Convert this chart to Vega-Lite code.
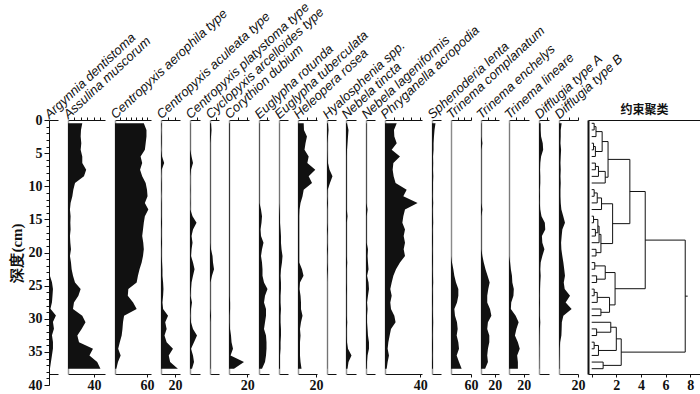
{
"$schema":"https://vega.github.io/schema/vega-lite/v6.json",
"background":"white",
"padding":{"left":9,"top":0,"right":1,"bottom":1},
"bounds":"flush",
"spacing":10,
"datasets":{
"taxa":[
{"depth":0.5,"Arg":0,"Ass":22,"Caer":54,"Cacu":1,"Cpla":0.5,"Cycl":1.7,"Cory":0.8,"Erot":0.6,"Etub":0.3,"Hele":6.3,"Hyal":1.1,"Ntin":1,"Nlag":0.6,"Phry":13.3,"Sphe":3.9,"Tcom":0.3,"Tenc":0.7,"Tlin":0.3,"DifA":2,"DifB":2.8},
{"depth":1.5,"Arg":0,"Ass":20,"Caer":59,"Cacu":0.5,"Cpla":0.5,"Cycl":2.5,"Cory":0.8,"Erot":0.6,"Etub":0.3,"Hele":6.6,"Hyal":1.7,"Ntin":2.5,"Nlag":0.6,"Phry":10.2,"Sphe":2.8,"Tcom":0.3,"Tenc":0.7,"Tlin":0.3,"DifA":2,"DifB":1.8},
{"depth":2.5,"Arg":0,"Ass":19.5,"Caer":59,"Cacu":1,"Cpla":0.5,"Cycl":1.7,"Cory":0.8,"Erot":0.6,"Etub":0.3,"Hele":9.9,"Hyal":1.1,"Ntin":2,"Nlag":0.6,"Phry":10.6,"Sphe":2.2,"Tcom":0.3,"Tenc":0.7,"Tlin":0.3,"DifA":2.5,"DifB":1.8},
{"depth":3.5,"Arg":0,"Ass":20.5,"Caer":57.5,"Cacu":1,"Cpla":0.5,"Cycl":0.8,"Cory":0.8,"Erot":0.6,"Etub":0.3,"Hele":8.3,"Hyal":0.6,"Ntin":1.5,"Nlag":0.6,"Phry":13.3,"Sphe":1.7,"Tcom":0.3,"Tenc":2,"Tlin":0.3,"DifA":4.5,"DifB":1.5},
{"depth":4.5,"Arg":0,"Ass":19.5,"Caer":56,"Cacu":0.5,"Cpla":0.5,"Cycl":0.8,"Cory":0.8,"Erot":0.6,"Etub":0.3,"Hele":7.2,"Hyal":0.6,"Ntin":1,"Nlag":0.6,"Phry":7.6,"Sphe":1.7,"Tcom":0.3,"Tenc":0.7,"Tlin":0.3,"DifA":5,"DifB":2.2},
{"depth":5.5,"Arg":0,"Ass":22,"Caer":48,"Cacu":1.5,"Cpla":2.3,"Cycl":0.8,"Cory":0.8,"Erot":0.6,"Etub":0.3,"Hele":11.8,"Hyal":0.8,"Ntin":0.8,"Nlag":0.6,"Phry":17,"Sphe":1.1,"Tcom":0.3,"Tenc":0.7,"Tlin":0.3,"DifA":2.5,"DifB":1.8},
{"depth":6.5,"Arg":0,"Ass":22,"Caer":51,"Cacu":4.5,"Cpla":4.5,"Cycl":0.8,"Cory":0.8,"Erot":0.6,"Etub":0.3,"Hele":10.3,"Hyal":1.1,"Ntin":0.8,"Nlag":0.6,"Phry":9.5,"Sphe":1.3,"Tcom":0.3,"Tenc":0.7,"Tlin":0.3,"DifA":1.5,"DifB":1.5},
{"depth":7.5,"Arg":0,"Ass":28,"Caer":47,"Cacu":1,"Cpla":1.5,"Cycl":0.8,"Cory":0.8,"Erot":0.6,"Etub":0.3,"Hele":19.1,"Hyal":2.8,"Ntin":0.8,"Nlag":0.6,"Phry":8.7,"Sphe":1.1,"Tcom":0.3,"Tenc":0.7,"Tlin":0.3,"DifA":1.2,"DifB":1.8},
{"depth":8.5,"Arg":0,"Ass":24.6,"Caer":51,"Cacu":0.5,"Cpla":0.5,"Cycl":0.8,"Cory":0.8,"Erot":0.6,"Etub":0.3,"Hele":11.8,"Hyal":6.1,"Ntin":0.8,"Nlag":0.6,"Phry":9.8,"Sphe":1.4,"Tcom":0.3,"Tenc":0.7,"Tlin":0.3,"DifA":1.5,"DifB":1.5},
{"depth":9.5,"Arg":0,"Ass":10.8,"Caer":57.5,"Cacu":1,"Cpla":0.5,"Cycl":0.8,"Cory":0.8,"Erot":0.6,"Etub":0.3,"Hele":15.5,"Hyal":3.3,"Ntin":0.8,"Nlag":0.6,"Phry":12,"Sphe":1.1,"Tcom":0.3,"Tenc":0.7,"Tlin":0.3,"DifA":1.5,"DifB":1.8},
{"depth":10.5,"Arg":0,"Ass":8.2,"Caer":60,"Cacu":1,"Cpla":0.8,"Cycl":0.8,"Cory":0.8,"Erot":0.6,"Etub":0.3,"Hele":6.3,"Hyal":0.8,"Ntin":0.8,"Nlag":0.6,"Phry":24.6,"Sphe":1.1,"Tcom":0.3,"Tenc":0.7,"Tlin":0.3,"DifA":1,"DifB":1.5},
{"depth":11.5,"Arg":0,"Ass":6.7,"Caer":61,"Cacu":0.5,"Cpla":0.5,"Cycl":0.8,"Cory":0.8,"Erot":0.6,"Etub":0.3,"Hele":5,"Hyal":0.6,"Ntin":0.8,"Nlag":0.6,"Phry":20.8,"Sphe":0.9,"Tcom":0.3,"Tenc":0.7,"Tlin":0.3,"DifA":1.2,"DifB":1.5},
{"depth":12.5,"Arg":0,"Ass":4,"Caer":56,"Cacu":1,"Cpla":0.8,"Cycl":0.8,"Cory":0.8,"Erot":0.6,"Etub":0.3,"Hele":2.8,"Hyal":1.1,"Ntin":0.8,"Nlag":0.6,"Phry":37,"Sphe":1.3,"Tcom":0.3,"Tenc":0.7,"Tlin":0.3,"DifA":1,"DifB":1.8},
{"depth":13.5,"Arg":0,"Ass":3,"Caer":62.5,"Cacu":1,"Cpla":0.5,"Cycl":0.8,"Cory":0.8,"Erot":2.4,"Etub":0.8,"Hele":1.7,"Hyal":0.6,"Ntin":0.8,"Nlag":1.7,"Phry":22.7,"Sphe":0.9,"Tcom":0.3,"Tenc":2,"Tlin":0.3,"DifA":1.5,"DifB":2.5},
{"depth":14.5,"Arg":0,"Ass":4,"Caer":56,"Cacu":1,"Cpla":3.8,"Cycl":0.8,"Cory":0.8,"Erot":3.6,"Etub":1.1,"Hele":1.4,"Hyal":0.6,"Ntin":1.5,"Nlag":0.8,"Phry":20.8,"Sphe":1.1,"Tcom":0.3,"Tenc":0.7,"Tlin":0.3,"DifA":3,"DifB":4.5},
{"depth":15.5,"Arg":0,"Ass":3.6,"Caer":54,"Cacu":1.5,"Cpla":9.8,"Cycl":0.8,"Cory":0.8,"Erot":3,"Etub":1.1,"Hele":1.4,"Hyal":0.6,"Ntin":0.8,"Nlag":0.8,"Phry":19.7,"Sphe":1.3,"Tcom":0.3,"Tenc":0.7,"Tlin":0.3,"DifA":7,"DifB":6.3},
{"depth":16.5,"Arg":0,"Ass":4,"Caer":52.5,"Cacu":1,"Cpla":4.5,"Cycl":0.8,"Cory":0.8,"Erot":1.8,"Etub":1.7,"Hele":1.4,"Hyal":1.1,"Ntin":0.8,"Nlag":0.8,"Phry":22.7,"Sphe":0.9,"Tcom":0.3,"Tenc":0.7,"Tlin":0.3,"DifA":7.5,"DifB":3.5},
{"depth":17.5,"Arg":0,"Ass":3,"Caer":51,"Cacu":1,"Cpla":2.3,"Cycl":0.8,"Cory":0.8,"Erot":2.4,"Etub":2.2,"Hele":1.4,"Hyal":0.6,"Ntin":0.8,"Nlag":0.8,"Phry":21.2,"Sphe":1.1,"Tcom":0.3,"Tenc":0.7,"Tlin":0.3,"DifA":3.5,"DifB":2.8},
{"depth":18.5,"Arg":0,"Ass":3.6,"Caer":53,"Cacu":1.5,"Cpla":3.8,"Cycl":0.8,"Cory":0.8,"Erot":5.4,"Etub":2.2,"Hele":1.4,"Hyal":0.6,"Ntin":0.8,"Nlag":0.8,"Phry":22.7,"Sphe":1.1,"Tcom":0.3,"Tenc":0.7,"Tlin":0.3,"DifA":4,"DifB":2.2},
{"depth":19.5,"Arg":0,"Ass":4.6,"Caer":54,"Cacu":1,"Cpla":2.3,"Cycl":1.7,"Cory":0.8,"Erot":3.6,"Etub":2.8,"Hele":1.4,"Hyal":1.1,"Ntin":0.8,"Nlag":2.2,"Phry":21.2,"Sphe":0.9,"Tcom":0.3,"Tenc":0.7,"Tlin":0.3,"DifA":6.5,"DifB":2.5},
{"depth":20.5,"Arg":0,"Ass":3,"Caer":52.5,"Cacu":1,"Cpla":1.5,"Cycl":4.2,"Cory":0.8,"Erot":2.4,"Etub":3.9,"Hele":1.4,"Hyal":0.6,"Ntin":0.8,"Nlag":1.7,"Phry":22.7,"Sphe":1.1,"Tcom":0.3,"Tenc":2,"Tlin":0.3,"DifA":4,"DifB":3.5},
{"depth":21.5,"Arg":0,"Ass":4.6,"Caer":50,"Cacu":1.5,"Cpla":4.5,"Cycl":5,"Cory":0.8,"Erot":3.6,"Etub":3.3,"Hele":1.4,"Hyal":0.6,"Ntin":1.2,"Nlag":2.2,"Phry":17,"Sphe":1.1,"Tcom":3,"Tenc":4,"Tlin":1.5,"DifA":2,"DifB":4.6},
{"depth":22.5,"Arg":0.5,"Ass":5.6,"Caer":46,"Cacu":2,"Cpla":6.8,"Cycl":6.7,"Cory":0.8,"Erot":4.2,"Etub":2.2,"Hele":4.4,"Hyal":1.1,"Ntin":0.8,"Nlag":2.8,"Phry":12.5,"Sphe":0.9,"Tcom":7,"Tenc":6.5,"Tlin":2.5,"DifA":1.5,"DifB":5.5},
{"depth":23.5,"Arg":1,"Ass":7.7,"Caer":43,"Cacu":2,"Cpla":4.5,"Cycl":3.3,"Cory":0.8,"Erot":4.2,"Etub":1.7,"Hele":6.1,"Hyal":0.6,"Ntin":0.8,"Nlag":1.1,"Phry":9.5,"Sphe":1.1,"Tcom":10,"Tenc":9.5,"Tlin":4,"DifA":2,"DifB":6.3},
{"depth":24.5,"Arg":3.3,"Ass":10.8,"Caer":40.6,"Cacu":3,"Cpla":2.3,"Cycl":0.8,"Cory":0.8,"Erot":6,"Etub":2.2,"Hele":2.2,"Hyal":0.3,"Ntin":0.8,"Nlag":2.8,"Phry":7.6,"Sphe":1.3,"Tcom":15,"Tenc":12.5,"Tlin":4.5,"DifA":1.5,"DifB":5},
{"depth":25.5,"Arg":4.4,"Ass":19.5,"Caer":25,"Cacu":3.5,"Cpla":1.5,"Cycl":0.8,"Cory":0.8,"Erot":10.2,"Etub":2.2,"Hele":1.7,"Hyal":0.3,"Ntin":1,"Nlag":3.3,"Phry":6,"Sphe":0.9,"Tcom":22,"Tenc":10.5,"Tlin":6.5,"DifA":1.2,"DifB":6},
{"depth":26.5,"Arg":3.9,"Ass":16,"Caer":24,"Cacu":3,"Cpla":0.8,"Cycl":0.8,"Cory":0.8,"Erot":7.2,"Etub":1.7,"Hele":2.8,"Hyal":0.3,"Ntin":0.8,"Nlag":2.2,"Phry":7.6,"Sphe":1.1,"Tcom":22,"Tenc":9,"Tlin":6,"DifA":1,"DifB":11.6},
{"depth":27.5,"Arg":3.3,"Ass":9.2,"Caer":34,"Cacu":2,"Cpla":3,"Cycl":0.8,"Cory":1.2,"Erot":6,"Etub":1.7,"Hele":3.3,"Hyal":0.3,"Ntin":0.8,"Nlag":1.1,"Phry":6,"Sphe":1.1,"Tcom":18,"Tenc":9,"Tlin":3,"DifA":1.2,"DifB":7},
{"depth":28.5,"Arg":1.6,"Ass":7.7,"Caer":40.6,"Cacu":3,"Cpla":1.5,"Cycl":0.8,"Cory":1.2,"Erot":8.4,"Etub":2.2,"Hele":3.3,"Hyal":0.3,"Ntin":0.8,"Nlag":1.7,"Phry":6.8,"Sphe":0.9,"Tcom":10,"Tenc":13,"Tlin":2.5,"DifA":1,"DifB":13.3},
{"depth":29.5,"Arg":7.7,"Ass":22,"Caer":17,"Cacu":10,"Cpla":0.8,"Cycl":1.7,"Cory":0.8,"Erot":8.4,"Etub":1.7,"Hele":5,"Hyal":0.3,"Ntin":0.8,"Nlag":1.1,"Phry":10.6,"Sphe":1.1,"Tcom":12,"Tenc":15,"Tlin":9,"DifA":1,"DifB":4.6},
{"depth":30.5,"Arg":4.4,"Ass":27,"Caer":15,"Cacu":6,"Cpla":1.5,"Cycl":0.8,"Cory":0.8,"Erot":7.2,"Etub":1.7,"Hele":3.3,"Hyal":0.3,"Ntin":1.2,"Nlag":1.1,"Phry":12,"Sphe":1.3,"Tcom":18,"Tenc":10,"Tlin":13,"DifA":1.5,"DifB":3},
{"depth":31.5,"Arg":5.5,"Ass":21,"Caer":14,"Cacu":8,"Cpla":4.5,"Cycl":0.8,"Cory":1.1,"Erot":6,"Etub":2.2,"Hele":2.2,"Hyal":0.3,"Ntin":0.8,"Nlag":1.7,"Phry":6.8,"Sphe":1.1,"Tcom":20,"Tenc":9,"Tlin":10,"DifA":1,"DifB":2.8},
{"depth":32.5,"Arg":3.3,"Ass":14.4,"Caer":12.5,"Cacu":5,"Cpla":10.5,"Cycl":0.8,"Cory":2.2,"Erot":8.4,"Etub":2.2,"Hele":2.8,"Hyal":0.3,"Ntin":0.8,"Nlag":2.2,"Phry":5.3,"Sphe":0.9,"Tcom":17,"Tenc":12,"Tlin":8,"DifA":0.8,"DifB":2.5},
{"depth":33.5,"Arg":4.4,"Ass":17,"Caer":9,"Cacu":8,"Cpla":6,"Cycl":0.8,"Cory":2.8,"Erot":9,"Etub":1.7,"Hele":2.2,"Hyal":0.3,"Ntin":1,"Nlag":3.3,"Phry":3.8,"Sphe":1.1,"Tcom":22,"Tenc":12,"Tlin":12,"DifA":0.7,"DifB":1.2},
{"depth":34.5,"Arg":4.4,"Ass":38.5,"Caer":6,"Cacu":17,"Cpla":1.5,"Cycl":0.8,"Cory":4.4,"Erot":9,"Etub":1.7,"Hele":2.2,"Hyal":0.3,"Ntin":2,"Nlag":3.3,"Phry":3,"Sphe":1.1,"Tcom":24,"Tenc":10,"Tlin":14.5,"DifA":0.5,"DifB":0.8},
{"depth":35.5,"Arg":3.3,"Ass":33,"Caer":10.6,"Cacu":11,"Cpla":4.5,"Cycl":0.8,"Cory":1.7,"Erot":8.4,"Etub":1.1,"Hele":2.2,"Hyal":0.3,"Ntin":5.5,"Nlag":1.7,"Phry":4.5,"Sphe":0.9,"Tcom":17,"Tenc":9,"Tlin":11,"DifA":0.5,"DifB":0.7},
{"depth":36.5,"Arg":2.2,"Ass":45,"Caer":5.6,"Cacu":13,"Cpla":6,"Cycl":0.8,"Cory":16.5,"Erot":7.2,"Etub":1.1,"Hele":2.8,"Hyal":0.3,"Ntin":2.5,"Nlag":1.1,"Phry":3,"Sphe":1.1,"Tcom":24,"Tenc":10,"Tlin":12,"DifA":0.3,"DifB":0.5},
{"depth":37.5,"Arg":1.1,"Ass":50,"Caer":2.5,"Cacu":24,"Cpla":3,"Cycl":0.8,"Cory":5.5,"Erot":3.6,"Etub":1.1,"Hele":3.9,"Hyal":0.3,"Ntin":1.5,"Nlag":0.8,"Phry":1.9,"Sphe":1.1,"Tcom":32,"Tenc":6,"Tlin":12,"DifA":0.3,"DifB":0.5}
],
"tree":[
{"h1":0,"h2":0.2,"d1":0.5,"d2":0.5},{"h1":0,"h2":0.2,"d1":1.5,"d2":1.5},{"h1":0.2,"h2":0.2,"d1":0.5,"d2":1.5},
{"h1":0.2,"h2":0.35,"d1":1,"d2":1},{"h1":0,"h2":0.35,"d1":2.5,"d2":2.5},{"h1":0.35,"h2":0.35,"d1":1,"d2":2.5},
{"h1":0,"h2":0.15,"d1":3.5,"d2":3.5},{"h1":0,"h2":0.15,"d1":4.5,"d2":4.5},{"h1":0.15,"h2":0.15,"d1":3.5,"d2":4.5},
{"h1":0.15,"h2":0.3,"d1":4,"d2":4},{"h1":0,"h2":0.3,"d1":5.5,"d2":5.5},{"h1":0.3,"h2":0.3,"d1":4,"d2":5.5},
{"h1":0.35,"h2":0.85,"d1":1.75,"d2":1.75},{"h1":0.3,"h2":0.85,"d1":4.75,"d2":4.75},{"h1":0.85,"h2":0.85,"d1":1.75,"d2":4.75},
{"h1":0,"h2":0.3,"d1":6.5,"d2":6.5},{"h1":0,"h2":0.3,"d1":7.5,"d2":7.5},{"h1":0.3,"h2":0.3,"d1":6.5,"d2":7.5},
{"h1":0.3,"h2":0.55,"d1":7,"d2":7},{"h1":0,"h2":0.55,"d1":8.5,"d2":8.5},{"h1":0.55,"h2":0.55,"d1":7,"d2":8.5},
{"h1":0.55,"h2":1.1,"d1":7.75,"d2":7.75},{"h1":0,"h2":1.1,"d1":9.5,"d2":9.5},{"h1":1.1,"h2":1.1,"d1":7.75,"d2":9.5},
{"h1":0.85,"h2":1.33,"d1":3.25,"d2":3.25},{"h1":1.1,"h2":1.33,"d1":8.63,"d2":8.63},{"h1":1.33,"h2":1.33,"d1":3.25,"d2":8.63},
{"h1":0,"h2":0.2,"d1":10.5,"d2":10.5},{"h1":0,"h2":0.2,"d1":11.5,"d2":11.5},{"h1":0.2,"h2":0.2,"d1":10.5,"d2":11.5},
{"h1":0.2,"h2":0.45,"d1":11,"d2":11},{"h1":0,"h2":0.45,"d1":12.5,"d2":12.5},{"h1":0.45,"h2":0.45,"d1":11,"d2":12.5},
{"h1":0.45,"h2":0.8,"d1":11.75,"d2":11.75},{"h1":0,"h2":0.8,"d1":13.5,"d2":13.5},{"h1":0.8,"h2":0.8,"d1":11.75,"d2":13.5},
{"h1":0,"h2":0.15,"d1":14.5,"d2":14.5},{"h1":0,"h2":0.15,"d1":15.5,"d2":15.5},{"h1":0.15,"h2":0.15,"d1":14.5,"d2":15.5},
{"h1":0,"h2":0.3,"d1":16.5,"d2":16.5},{"h1":0,"h2":0.3,"d1":17.5,"d2":17.5},{"h1":0.3,"h2":0.3,"d1":16.5,"d2":17.5},
{"h1":0.15,"h2":0.5,"d1":15,"d2":15},{"h1":0.3,"h2":0.5,"d1":17,"d2":17},{"h1":0.5,"h2":0.5,"d1":15,"d2":17},
{"h1":0.5,"h2":0.6,"d1":16,"d2":16},{"h1":0,"h2":0.6,"d1":18.5,"d2":18.5},{"h1":0.6,"h2":0.6,"d1":16,"d2":18.5},
{"h1":0,"h2":0.35,"d1":19.5,"d2":19.5},{"h1":0,"h2":0.35,"d1":20.5,"d2":20.5},{"h1":0.35,"h2":0.35,"d1":19.5,"d2":20.5},
{"h1":0.6,"h2":0.75,"d1":17.25,"d2":17.25},{"h1":0.35,"h2":0.75,"d1":20,"d2":20},{"h1":0.75,"h2":0.75,"d1":17.25,"d2":20},
{"h1":0.8,"h2":1.7,"d1":12.63,"d2":12.63},{"h1":0.75,"h2":1.7,"d1":18.63,"d2":18.63},{"h1":1.7,"h2":1.7,"d1":12.63,"d2":18.63},
{"h1":1.33,"h2":3.1,"d1":5.94,"d2":5.94},{"h1":1.7,"h2":3.1,"d1":15.63,"d2":15.63},{"h1":3.1,"h2":3.1,"d1":5.94,"d2":15.63},
{"h1":0,"h2":0.25,"d1":21.5,"d2":21.5},{"h1":0,"h2":0.25,"d1":22.5,"d2":22.5},{"h1":0.25,"h2":0.25,"d1":21.5,"d2":22.5},
{"h1":0,"h2":0.4,"d1":23.5,"d2":23.5},{"h1":0,"h2":0.4,"d1":24.5,"d2":24.5},{"h1":0.4,"h2":0.4,"d1":23.5,"d2":24.5},
{"h1":0.25,"h2":1.1,"d1":22,"d2":22},{"h1":0.4,"h2":1.1,"d1":24,"d2":24},{"h1":1.1,"h2":1.1,"d1":22,"d2":24},
{"h1":0,"h2":0.2,"d1":25.5,"d2":25.5},{"h1":0,"h2":0.2,"d1":26.5,"d2":26.5},{"h1":0.2,"h2":0.2,"d1":25.5,"d2":26.5},
{"h1":0.2,"h2":0.45,"d1":26,"d2":26},{"h1":0,"h2":0.45,"d1":27.5,"d2":27.5},{"h1":0.45,"h2":0.45,"d1":26,"d2":27.5},
{"h1":0,"h2":0.75,"d1":28.5,"d2":28.5},{"h1":0,"h2":0.75,"d1":29.5,"d2":29.5},{"h1":0.75,"h2":0.75,"d1":28.5,"d2":29.5},
{"h1":0.45,"h2":1.45,"d1":26.75,"d2":26.75},{"h1":0.75,"h2":1.45,"d1":29,"d2":29},{"h1":1.45,"h2":1.45,"d1":26.75,"d2":29},
{"h1":1.1,"h2":1.9,"d1":23,"d2":23},{"h1":1.45,"h2":1.9,"d1":27.88,"d2":27.88},{"h1":1.9,"h2":1.9,"d1":23,"d2":27.88},
{"h1":3.1,"h2":4.35,"d1":10.78,"d2":10.78},{"h1":1.9,"h2":4.35,"d1":25.44,"d2":25.44},{"h1":4.35,"h2":4.35,"d1":10.78,"d2":25.44},
{"h1":0,"h2":0.4,"d1":31.5,"d2":31.5},{"h1":0,"h2":0.4,"d1":32.5,"d2":32.5},{"h1":0.4,"h2":0.4,"d1":31.5,"d2":32.5},
{"h1":0,"h2":1.55,"d1":30.5,"d2":30.5},{"h1":0.4,"h2":1.55,"d1":32,"d2":32},{"h1":1.55,"h2":1.55,"d1":30.5,"d2":32},
{"h1":0,"h2":0.2,"d1":33.5,"d2":33.5},{"h1":0,"h2":0.2,"d1":34.5,"d2":34.5},{"h1":0.2,"h2":0.2,"d1":33.5,"d2":34.5},
{"h1":0.2,"h2":0.55,"d1":34,"d2":34},{"h1":0,"h2":0.55,"d1":35.5,"d2":35.5},{"h1":0.55,"h2":0.55,"d1":34,"d2":35.5},
{"h1":1.55,"h2":2,"d1":31.25,"d2":31.25},{"h1":0.55,"h2":2,"d1":34.75,"d2":34.75},{"h1":2,"h2":2,"d1":31.25,"d2":34.75},
{"h1":0,"h2":0.93,"d1":36.5,"d2":36.5},{"h1":0,"h2":0.93,"d1":37.5,"d2":37.5},{"h1":0.93,"h2":0.93,"d1":36.5,"d2":37.5},
{"h1":2,"h2":2.4,"d1":33,"d2":33},{"h1":0.93,"h2":2.4,"d1":37,"d2":37},{"h1":2.4,"h2":2.4,"d1":33,"d2":37},
{"h1":4.35,"h2":7.6,"d1":18.11,"d2":18.11},{"h1":2.4,"h2":7.6,"d1":35,"d2":35},{"h1":7.6,"h2":7.6,"d1":18.11,"d2":35},
{"h1":7.6,"h2":7.8,"d1":26.56,"d2":26.56}
]
},
"data":{"name":"taxa"},
"config":{
"view":{"stroke":null},
"axis":{"grid":false,"domainColor":"#111","tickColor":"#111","labelColor":"#111","titleColor":"#111","labelFont":"Liberation Serif","labelFontWeight":"bold","labelFontSize":14,"labelFlush":false,"labelOverlap":false,"labelPadding":1,"tickSize":3}
},
"hconcat":[
{"width":9,"height":265,
"encoding":{"y":{"field":"depth","type":"quantitative","scale":{"domain":[0,40],"reverse":true,"nice":false,"zero":false},"axis":{"values":[0,1,2,3,4,5,6,7,8,9,10,11,12,13,14,15,16,17,18,19,20,21,22,23,24,25,26,27,28,29,30,31,32,33,34,35,36,37,38,39,40],"tickSize":{"condition":{"test":"datum.value % 5 === 0","value":5},"value":3},"labelExpr":"datum.value % 5 === 0 ? datum.label : ''","labelPadding":2,"title":"深度(cm)","titleFont":"Liberation Serif","titleFontWeight":"bold","titleFontSize":15,"titlePadding":4}}},
"layer":[
{"mark":{"type":"area","orient":"horizontal","color":"#111"},"encoding":{"x":{"field":"Arg","type":"quantitative","scale":{"domain":[0,10],"nice":false},"axis":{"orient":"bottom","offset":-11,"ticks":false,"labels":false,"title":null}}}},
{"mark":{"type":"area","orient":"horizontal","opacity":0},"encoding":{"x":{"field":"Arg","type":"quantitative","scale":{"domain":[0,10],"nice":false},"axis":{"orient":"top","ticks":false,"labels":false,"title":"Argynnia dentistoma","titleFont":"Liberation Sans","titleFontStyle":"italic","titleFontWeight":"normal","titleFontSize":13,"titleAngle":-43,"titleAlign":"left","titleBaseline":"alphabetic","titleX":0,"titleY":-1}}}}
],"resolve":{"axis":{"x":"independent"}}},
{"width":37,"height":254,
"encoding":{"y":{"field":"depth","type":"quantitative","scale":{"domain":[0,38.3],"reverse":true,"nice":false,"zero":false},"axis":{"domainColor":"#9a9a9a","domainWidth":1.5,"ticks":false,"labels":false,"title":null}}},
"layer":[
{"mark":{"type":"area","orient":"horizontal","color":"#111"},"encoding":{"x":{"field":"Ass","type":"quantitative","scale":{"domain":[0,57],"nice":false},"axis":{"orient":"bottom","values":[40],"title":null}}}},
{"mark":{"type":"area","orient":"horizontal","opacity":0},"encoding":{"x":{"field":"Ass","type":"quantitative","scale":{"domain":[0,57],"nice":false},"axis":{"orient":"top","values":[10,20,30,40,50],"labels":false,"title":"Assulina muscorum","titleFont":"Liberation Sans","titleFontStyle":"italic","titleFontWeight":"normal","titleFontSize":13,"titleAngle":-43,"titleAlign":"left","titleBaseline":"alphabetic","titleX":0,"titleY":-1}}}}
],"resolve":{"axis":{"x":"independent"}}},
{"width":36,"height":254,
"encoding":{"y":{"field":"depth","type":"quantitative","scale":{"domain":[0,38.3],"reverse":true,"nice":false,"zero":false},"axis":{"domainColor":"#9a9a9a","domainWidth":1.5,"ticks":false,"labels":false,"title":null}}},
"layer":[
{"mark":{"type":"area","orient":"horizontal","color":"#111"},"encoding":{"x":{"field":"Caer","type":"quantitative","scale":{"domain":[0,67.5],"nice":false},"axis":{"orient":"bottom","values":[60],"title":null}}}},
{"mark":{"type":"area","orient":"horizontal","opacity":0},"encoding":{"x":{"field":"Caer","type":"quantitative","scale":{"domain":[0,67.5],"nice":false},"axis":{"orient":"top","values":[10,20,30,40,50,60],"labels":false,"title":"Centropyxis aerophila type","titleFont":"Liberation Sans","titleFontStyle":"italic","titleFontWeight":"normal","titleFontSize":13,"titleAngle":-43,"titleAlign":"left","titleBaseline":"alphabetic","titleX":0,"titleY":-1}}}}
],"resolve":{"axis":{"x":"independent"}}},
{"width":19,"height":254,
"encoding":{"y":{"field":"depth","type":"quantitative","scale":{"domain":[0,38.3],"reverse":true,"nice":false,"zero":false},"axis":{"domainColor":"#9a9a9a","domainWidth":1.5,"ticks":false,"labels":false,"title":null}}},
"layer":[
{"mark":{"type":"area","orient":"horizontal","color":"#111"},"encoding":{"x":{"field":"Cacu","type":"quantitative","scale":{"domain":[0,27],"nice":false},"axis":{"orient":"bottom","values":[20],"title":null}}}},
{"mark":{"type":"area","orient":"horizontal","opacity":0},"encoding":{"x":{"field":"Cacu","type":"quantitative","scale":{"domain":[0,27],"nice":false},"axis":{"orient":"top","values":[10,20],"labels":false,"title":"Centropyxis aculeata type","titleFont":"Liberation Sans","titleFontStyle":"italic","titleFontWeight":"normal","titleFontSize":13,"titleAngle":-43,"titleAlign":"left","titleBaseline":"alphabetic","titleX":0,"titleY":-1}}}}
],"resolve":{"axis":{"x":"independent"}}},
{"width":10,"height":254,
"encoding":{"y":{"field":"depth","type":"quantitative","scale":{"domain":[0,38.3],"reverse":true,"nice":false,"zero":false},"axis":{"domainColor":"#9a9a9a","domainWidth":1.5,"ticks":false,"labels":false,"title":null}}},
"layer":[
{"mark":{"type":"area","orient":"horizontal","color":"#111"},"encoding":{"x":{"field":"Cpla","type":"quantitative","scale":{"domain":[0,15],"nice":false},"axis":{"orient":"bottom","ticks":false,"labels":false,"title":null}}}},
{"mark":{"type":"area","orient":"horizontal","opacity":0},"encoding":{"x":{"field":"Cpla","type":"quantitative","scale":{"domain":[0,15],"nice":false},"axis":{"orient":"top","values":[10],"labels":false,"title":"Centropyxis platystoma type","titleFont":"Liberation Sans","titleFontStyle":"italic","titleFontWeight":"normal","titleFontSize":13,"titleAngle":-43,"titleAlign":"left","titleBaseline":"alphabetic","titleX":0,"titleY":-1}}}}
],"resolve":{"axis":{"x":"independent"}}},
{"width":9,"height":254,
"encoding":{"y":{"field":"depth","type":"quantitative","scale":{"domain":[0,38.3],"reverse":true,"nice":false,"zero":false},"axis":{"domainColor":"#9a9a9a","domainWidth":1.5,"ticks":false,"labels":false,"title":null}}},
"layer":[
{"mark":{"type":"area","orient":"horizontal","color":"#111"},"encoding":{"x":{"field":"Cycl","type":"quantitative","scale":{"domain":[0,15],"nice":false},"axis":{"orient":"bottom","ticks":false,"labels":false,"title":null}}}},
{"mark":{"type":"area","orient":"horizontal","opacity":0},"encoding":{"x":{"field":"Cycl","type":"quantitative","scale":{"domain":[0,15],"nice":false},"axis":{"orient":"top","values":[10],"labels":false,"title":"Cyclopyxis arcelloides type","titleFont":"Liberation Sans","titleFontStyle":"italic","titleFontWeight":"normal","titleFontSize":13,"titleAngle":-43,"titleAlign":"left","titleBaseline":"alphabetic","titleX":0,"titleY":-1}}}}
],"resolve":{"axis":{"x":"independent"}}},
{"width":20,"height":254,
"encoding":{"y":{"field":"depth","type":"quantitative","scale":{"domain":[0,38.3],"reverse":true,"nice":false,"zero":false},"axis":{"domainColor":"#9a9a9a","domainWidth":1.5,"ticks":false,"labels":false,"title":null}}},
"layer":[
{"mark":{"type":"area","orient":"horizontal","color":"#111"},"encoding":{"x":{"field":"Cory","type":"quantitative","scale":{"domain":[0,22],"nice":false},"axis":{"orient":"bottom","values":[20],"title":null}}}},
{"mark":{"type":"area","orient":"horizontal","opacity":0},"encoding":{"x":{"field":"Cory","type":"quantitative","scale":{"domain":[0,22],"nice":false},"axis":{"orient":"top","values":[10,20],"labels":false,"title":"Corythion dubium","titleFont":"Liberation Sans","titleFontStyle":"italic","titleFontWeight":"normal","titleFontSize":13,"titleAngle":-43,"titleAlign":"left","titleBaseline":"alphabetic","titleX":0,"titleY":-1}}}}
],"resolve":{"axis":{"x":"independent"}}},
{"width":10,"height":254,
"encoding":{"y":{"field":"depth","type":"quantitative","scale":{"domain":[0,38.3],"reverse":true,"nice":false,"zero":false},"axis":{"domainColor":"#9a9a9a","domainWidth":1.5,"ticks":false,"labels":false,"title":null}}},
"layer":[
{"mark":{"type":"area","orient":"horizontal","color":"#111"},"encoding":{"x":{"field":"Erot","type":"quantitative","scale":{"domain":[0,12],"nice":false},"axis":{"orient":"bottom","ticks":false,"labels":false,"title":null}}}},
{"mark":{"type":"area","orient":"horizontal","opacity":0},"encoding":{"x":{"field":"Erot","type":"quantitative","scale":{"domain":[0,12],"nice":false},"axis":{"orient":"top","values":[10],"labels":false,"title":"Euglypha rotunda","titleFont":"Liberation Sans","titleFontStyle":"italic","titleFontWeight":"normal","titleFontSize":13,"titleAngle":-43,"titleAlign":"left","titleBaseline":"alphabetic","titleX":0,"titleY":-1}}}}
],"resolve":{"axis":{"x":"independent"}}},
{"width":9,"height":254,
"encoding":{"y":{"field":"depth","type":"quantitative","scale":{"domain":[0,38.3],"reverse":true,"nice":false,"zero":false},"axis":{"domainColor":"#9a9a9a","domainWidth":1.5,"ticks":false,"labels":false,"title":null}}},
"layer":[
{"mark":{"type":"area","orient":"horizontal","color":"#111"},"encoding":{"x":{"field":"Etub","type":"quantitative","scale":{"domain":[0,10],"nice":false},"axis":{"orient":"bottom","ticks":false,"labels":false,"title":null}}}},
{"mark":{"type":"area","orient":"horizontal","opacity":0},"encoding":{"x":{"field":"Etub","type":"quantitative","scale":{"domain":[0,10],"nice":false},"axis":{"orient":"top","ticks":false,"labels":false,"title":"Euglypha tuberculata","titleFont":"Liberation Sans","titleFontStyle":"italic","titleFontWeight":"normal","titleFontSize":13,"titleAngle":-43,"titleAlign":"left","titleBaseline":"alphabetic","titleX":0,"titleY":-1}}}}
],"resolve":{"axis":{"x":"independent"}}},
{"width":19,"height":254,
"encoding":{"y":{"field":"depth","type":"quantitative","scale":{"domain":[0,38.3],"reverse":true,"nice":false,"zero":false},"axis":{"domainColor":"#9a9a9a","domainWidth":1.5,"ticks":false,"labels":false,"title":null}}},
"layer":[
{"mark":{"type":"area","orient":"horizontal","color":"#111"},"encoding":{"x":{"field":"Hele","type":"quantitative","scale":{"domain":[0,21],"nice":false},"axis":{"orient":"bottom","values":[20],"title":null}}}},
{"mark":{"type":"area","orient":"horizontal","opacity":0},"encoding":{"x":{"field":"Hele","type":"quantitative","scale":{"domain":[0,21],"nice":false},"axis":{"orient":"top","values":[10,20],"labels":false,"title":"Heleopera rosea","titleFont":"Liberation Sans","titleFontStyle":"italic","titleFontWeight":"normal","titleFontSize":13,"titleAngle":-43,"titleAlign":"left","titleBaseline":"alphabetic","titleX":0,"titleY":-1}}}}
],"resolve":{"axis":{"x":"independent"}}},
{"width":9,"height":254,
"encoding":{"y":{"field":"depth","type":"quantitative","scale":{"domain":[0,38.3],"reverse":true,"nice":false,"zero":false},"axis":{"domainColor":"#9a9a9a","domainWidth":1.5,"ticks":false,"labels":false,"title":null}}},
"layer":[
{"mark":{"type":"area","orient":"horizontal","color":"#111"},"encoding":{"x":{"field":"Hyal","type":"quantitative","scale":{"domain":[0,10],"nice":false},"axis":{"orient":"bottom","ticks":false,"labels":false,"title":null}}}},
{"mark":{"type":"area","orient":"horizontal","opacity":0},"encoding":{"x":{"field":"Hyal","type":"quantitative","scale":{"domain":[0,10],"nice":false},"axis":{"orient":"top","ticks":false,"labels":false,"title":"Hyalosphenia spp.","titleFont":"Liberation Sans","titleFontStyle":"italic","titleFontWeight":"normal","titleFontSize":13,"titleAngle":-43,"titleAlign":"left","titleBaseline":"alphabetic","titleX":0,"titleY":-1}}}}
],"resolve":{"axis":{"x":"independent"}}},
{"width":10,"height":254,
"encoding":{"y":{"field":"depth","type":"quantitative","scale":{"domain":[0,38.3],"reverse":true,"nice":false,"zero":false},"axis":{"domainColor":"#9a9a9a","domainWidth":1.5,"ticks":false,"labels":false,"title":null}}},
"layer":[
{"mark":{"type":"area","orient":"horizontal","color":"#111"},"encoding":{"x":{"field":"Ntin","type":"quantitative","scale":{"domain":[0,10],"nice":false},"axis":{"orient":"bottom","ticks":false,"labels":false,"title":null}}}},
{"mark":{"type":"area","orient":"horizontal","opacity":0},"encoding":{"x":{"field":"Ntin","type":"quantitative","scale":{"domain":[0,10],"nice":false},"axis":{"orient":"top","ticks":false,"labels":false,"title":"Nebela tincta","titleFont":"Liberation Sans","titleFontStyle":"italic","titleFontWeight":"normal","titleFontSize":13,"titleAngle":-43,"titleAlign":"left","titleBaseline":"alphabetic","titleX":0,"titleY":-1}}}}
],"resolve":{"axis":{"x":"independent"}}},
{"width":9,"height":254,
"encoding":{"y":{"field":"depth","type":"quantitative","scale":{"domain":[0,38.3],"reverse":true,"nice":false,"zero":false},"axis":{"domainColor":"#9a9a9a","domainWidth":1.5,"ticks":false,"labels":false,"title":null}}},
"layer":[
{"mark":{"type":"area","orient":"horizontal","color":"#111"},"encoding":{"x":{"field":"Nlag","type":"quantitative","scale":{"domain":[0,10],"nice":false},"axis":{"orient":"bottom","ticks":false,"labels":false,"title":null}}}},
{"mark":{"type":"area","orient":"horizontal","opacity":0},"encoding":{"x":{"field":"Nlag","type":"quantitative","scale":{"domain":[0,10],"nice":false},"axis":{"orient":"top","ticks":false,"labels":false,"title":"Nebela lageniformis","titleFont":"Liberation Sans","titleFontStyle":"italic","titleFontWeight":"normal","titleFontSize":13,"titleAngle":-43,"titleAlign":"left","titleBaseline":"alphabetic","titleX":0,"titleY":-1}}}}
],"resolve":{"axis":{"x":"independent"}}},
{"width":37,"height":254,
"encoding":{"y":{"field":"depth","type":"quantitative","scale":{"domain":[0,38.3],"reverse":true,"nice":false,"zero":false},"axis":{"domainColor":"#9a9a9a","domainWidth":1.5,"ticks":false,"labels":false,"title":null}}},
"layer":[
{"mark":{"type":"area","orient":"horizontal","color":"#111"},"encoding":{"x":{"field":"Phry","type":"quantitative","scale":{"domain":[0,42],"nice":false},"axis":{"orient":"bottom","values":[40],"title":null}}}},
{"mark":{"type":"area","orient":"horizontal","opacity":0},"encoding":{"x":{"field":"Phry","type":"quantitative","scale":{"domain":[0,42],"nice":false},"axis":{"orient":"top","values":[10,20,30,40],"labels":false,"title":"Phryganella acropodia","titleFont":"Liberation Sans","titleFontStyle":"italic","titleFontWeight":"normal","titleFontSize":13,"titleAngle":-43,"titleAlign":"left","titleBaseline":"alphabetic","titleX":0,"titleY":-1}}}}
],"resolve":{"axis":{"x":"independent"}}},
{"width":9,"height":254,
"encoding":{"y":{"field":"depth","type":"quantitative","scale":{"domain":[0,38.3],"reverse":true,"nice":false,"zero":false},"axis":{"domainColor":"#9a9a9a","domainWidth":1.5,"ticks":false,"labels":false,"title":null}}},
"layer":[
{"mark":{"type":"area","orient":"horizontal","color":"#111"},"encoding":{"x":{"field":"Sphe","type":"quantitative","scale":{"domain":[0,10],"nice":false},"axis":{"orient":"bottom","ticks":false,"labels":false,"title":null}}}},
{"mark":{"type":"area","orient":"horizontal","opacity":0},"encoding":{"x":{"field":"Sphe","type":"quantitative","scale":{"domain":[0,10],"nice":false},"axis":{"orient":"top","ticks":false,"labels":false,"title":"Sphenoderia lenta","titleFont":"Liberation Sans","titleFontStyle":"italic","titleFontWeight":"normal","titleFontSize":13,"titleAngle":-43,"titleAlign":"left","titleBaseline":"alphabetic","titleX":0,"titleY":-1}}}}
],"resolve":{"axis":{"x":"independent"}}},
{"width":20,"height":254,
"encoding":{"y":{"field":"depth","type":"quantitative","scale":{"domain":[0,38.3],"reverse":true,"nice":false,"zero":false},"axis":{"domainColor":"#9a9a9a","domainWidth":1.5,"ticks":false,"labels":false,"title":null}}},
"layer":[
{"mark":{"type":"area","orient":"horizontal","color":"#111"},"encoding":{"x":{"field":"Tcom","type":"quantitative","scale":{"domain":[0,60],"nice":false},"axis":{"orient":"bottom","values":[60],"title":null}}}},
{"mark":{"type":"area","orient":"horizontal","opacity":0},"encoding":{"x":{"field":"Tcom","type":"quantitative","scale":{"domain":[0,60],"nice":false},"axis":{"orient":"top","values":[20,40,60],"labels":false,"title":"Trinema complanatum","titleFont":"Liberation Sans","titleFontStyle":"italic","titleFontWeight":"normal","titleFontSize":13,"titleAngle":-43,"titleAlign":"left","titleBaseline":"alphabetic","titleX":0,"titleY":-1}}}}
],"resolve":{"axis":{"x":"independent"}}},
{"width":18,"height":254,
"encoding":{"y":{"field":"depth","type":"quantitative","scale":{"domain":[0,38.3],"reverse":true,"nice":false,"zero":false},"axis":{"domainColor":"#9a9a9a","domainWidth":1.5,"ticks":false,"labels":false,"title":null}}},
"layer":[
{"mark":{"type":"area","orient":"horizontal","color":"#111"},"encoding":{"x":{"field":"Tenc","type":"quantitative","scale":{"domain":[0,26],"nice":false},"axis":{"orient":"bottom","values":[20],"title":null}}}},
{"mark":{"type":"area","orient":"horizontal","opacity":0},"encoding":{"x":{"field":"Tenc","type":"quantitative","scale":{"domain":[0,26],"nice":false},"axis":{"orient":"top","values":[10,20],"labels":false,"title":"Trinema enchelys","titleFont":"Liberation Sans","titleFontStyle":"italic","titleFontWeight":"normal","titleFontSize":13,"titleAngle":-43,"titleAlign":"left","titleBaseline":"alphabetic","titleX":0,"titleY":-1}}}}
],"resolve":{"axis":{"x":"independent"}}},
{"width":20,"height":254,
"encoding":{"y":{"field":"depth","type":"quantitative","scale":{"domain":[0,38.3],"reverse":true,"nice":false,"zero":false},"axis":{"domainColor":"#9a9a9a","domainWidth":1.5,"ticks":false,"labels":false,"title":null}}},
"layer":[
{"mark":{"type":"area","orient":"horizontal","color":"#111"},"encoding":{"x":{"field":"Tlin","type":"quantitative","scale":{"domain":[0,27],"nice":false},"axis":{"orient":"bottom","values":[20],"title":null}}}},
{"mark":{"type":"area","orient":"horizontal","opacity":0},"encoding":{"x":{"field":"Tlin","type":"quantitative","scale":{"domain":[0,27],"nice":false},"axis":{"orient":"top","values":[10,20],"labels":false,"title":"Trinema lineare","titleFont":"Liberation Sans","titleFontStyle":"italic","titleFontWeight":"normal","titleFontSize":13,"titleAngle":-43,"titleAlign":"left","titleBaseline":"alphabetic","titleX":0,"titleY":-1}}}}
],"resolve":{"axis":{"x":"independent"}}},
{"width":10,"height":254,
"encoding":{"y":{"field":"depth","type":"quantitative","scale":{"domain":[0,38.3],"reverse":true,"nice":false,"zero":false},"axis":{"domainColor":"#9a9a9a","domainWidth":1.5,"ticks":false,"labels":false,"title":null}}},
"layer":[
{"mark":{"type":"area","orient":"horizontal","color":"#111"},"encoding":{"x":{"field":"DifA","type":"quantitative","scale":{"domain":[0,12],"nice":false},"axis":{"orient":"bottom","ticks":false,"labels":false,"title":null}}}},
{"mark":{"type":"area","orient":"horizontal","opacity":0},"encoding":{"x":{"field":"DifA","type":"quantitative","scale":{"domain":[0,12],"nice":false},"axis":{"orient":"top","values":[10],"labels":false,"title":"Difflugia type A","titleFont":"Liberation Sans","titleFontStyle":"italic","titleFontWeight":"normal","titleFontSize":13,"titleAngle":-43,"titleAlign":"left","titleBaseline":"alphabetic","titleX":0,"titleY":-1}}}}
],"resolve":{"axis":{"x":"independent"}}},
{"width":19,"height":254,
"encoding":{"y":{"field":"depth","type":"quantitative","scale":{"domain":[0,38.3],"reverse":true,"nice":false,"zero":false},"axis":{"domainColor":"#9a9a9a","domainWidth":1.5,"ticks":false,"labels":false,"title":null}}},
"layer":[
{"mark":{"type":"area","orient":"horizontal","color":"#111"},"encoding":{"x":{"field":"DifB","type":"quantitative","scale":{"domain":[0,20],"nice":false},"axis":{"orient":"bottom","values":[20],"title":null}}}},
{"mark":{"type":"area","orient":"horizontal","opacity":0},"encoding":{"x":{"field":"DifB","type":"quantitative","scale":{"domain":[0,20],"nice":false},"axis":{"orient":"top","values":[10,20],"labels":false,"title":"Difflugia type B","titleFont":"Liberation Sans","titleFontStyle":"italic","titleFontWeight":"normal","titleFontSize":13,"titleAngle":-43,"titleAlign":"left","titleBaseline":"alphabetic","titleX":0,"titleY":-1}}}}
],"resolve":{"axis":{"x":"independent"}}},
{"data":{"name":"tree"},"width":112,"height":254,
"encoding":{"y":{"field":"d1","type":"quantitative","scale":{"domain":[0,38.3],"reverse":true,"nice":false,"zero":false},"axis":{"domainColor":"#111","domainWidth":2,"ticks":false,"labels":false,"title":null}},"y2":{"field":"d2"}},
"layer":[
{"mark":{"type":"rule","color":"#111","strokeWidth":1},"encoding":{"x":{"field":"h1","type":"quantitative","scale":{"domain":[-0.3,8.8],"nice":false,"zero":false},"axis":{"orient":"bottom","values":[0,2,4,6,8],"labelExpr":"datum.value > 0 ? datum.label : ''","title":null}},"x2":{"field":"h2"}}},
{"mark":{"type":"rule","opacity":0},"encoding":{"x":{"field":"h1","type":"quantitative","scale":{"domain":[-0.3,8.8],"nice":false,"zero":false},"axis":{"orient":"top","ticks":false,"labels":false,"title":"约束聚类","titleFont":"Noto Sans CJK SC","titleFontWeight":"bold","titleFontSize":12,"titlePadding":4}},"x2":{"field":"h2"}}}
],"resolve":{"axis":{"x":"independent"}}}
]
}
